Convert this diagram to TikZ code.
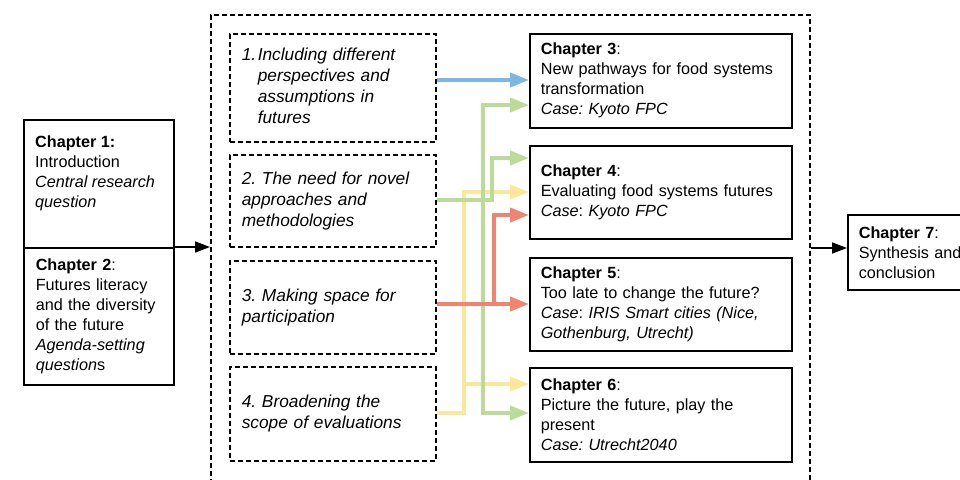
\documentclass[tikz,border=0pt]{standalone}
\usepackage{fontspec}
\setmainfont{Liberation Sans}
\usetikzlibrary{arrows.meta,calc}
\definecolor{cblue}{RGB}{125,182,226}
\definecolor{cgreen}{RGB}{186,220,152}
\definecolor{cyellow}{RGB}{250,232,152}
\definecolor{cred}{RGB}{240,132,112}
\frenchspacing
\begin{document}
\begin{tikzpicture}[x=1pt,y=-1pt,
  solidbox/.style={draw,line width=1.6pt,anchor=north west,inner ysep=0pt,align=left,font=\fontsize{16.2}{20}\selectfont},
  chapbox/.style={solidbox,text width=240pt,inner xsep=11pt},
  dashbox/.style={draw,line width=1.6pt,dash pattern=on 5pt off 3pt,anchor=north west,text width=182pt,inner xsep=12pt,inner ysep=0pt,align=left,font=\fontsize{17.3}{21}\selectfont\itshape},
  frame/.style={draw,line width=1.6pt,dash pattern=on 5pt off 3pt,anchor=north west},
  blk/.style={line width=1.6pt,-{Triangle[length=15pt,width=11pt]}},
  col/.style={line width=3.8pt,-{Triangle[length=19pt,width=14pt]}},
]
\clip (0,0) rectangle (960,479);
\fill[white] (0,0) rectangle (960,479);

% outer frame
\node[frame,minimum width=599pt,minimum height=490pt] (frame) at (210,14) {};

% chapters 1 and 2
\node[solidbox,minimum width=150pt,minimum height=128pt] (c1) at (23,119) {};
\node[anchor=north west,inner sep=0pt,align=left,font=\fontsize{16.2}{20}\selectfont] (c1t) at (35,136)
  {\textbf{Chapter 1:}\\Introduction\\\textit{Central research}\\\textit{question}};
\node[solidbox,text width=126pt,inner xsep=12pt,minimum height=137pt] (c2) at (23,247)
  {\textbf{Chapter 2}:\\Futures literacy\\and the diversity\\of the future\\\textit{Agenda-setting}\\\textit{question}s};

% themes
\node[dashbox,minimum height=108pt] (b1) at (229,33)
  {\begin{tabular}{@{}l@{}l@{}}\makebox[16pt][l]{1.}&Including different\\&perspectives and\\&assumptions in\\&futures\end{tabular}};
\node[dashbox,minimum height=92pt] (b2) at (229,154)
  {2. The need for novel\\approaches and\\methodologies};
\node[dashbox,minimum height=93pt] (b3) at (229,260)
  {3. Making space for\\participation};
\node[dashbox,minimum height=94pt] (b4) at (229,366)
  {4. Broadening the\\scope of evaluations};

% chapters 3-6
\node[chapbox,minimum height=94pt] (c3) at (529,33)
  {\textbf{Chapter 3}:\\New pathways for food systems\\transformation\\\textit{Case: Kyoto FPC}};
\node[chapbox,minimum height=93pt] (c4) at (529,145)
  {\textbf{Chapter 4}:\\Evaluating food systems futures\\\textit{Case}: \textit{Kyoto FPC}};
\node[chapbox,minimum height=93pt] (c5) at (529,257)
  {\textbf{Chapter 5}:\\Too late to change the future?\\\textit{Case}: \textit{IRIS Smart cities (Nice,}\\\textit{Gothenburg, Utrecht)}};
\node[chapbox,minimum height=94pt] (c6) at (529,367)
  {\textbf{Chapter 6}:\\Picture the future, play the\\present\\\textit{Case: Utrecht2040}};

% chapter 7
\node[solidbox,text width=130pt,inner xsep=11pt,minimum height=75pt] (c7) at (847,214)
  {\textbf{Chapter 7}:\\Synthesis and\\conclusion};

% black arrows
\draw[blk] (c2.north east) -- (frame.west |- c2.north east);
\draw[blk] (frame.east |- 0,248) -- (c7.west |- 0,248);

% coloured arrows
\coordinate (yx) at (464,413);
\coordinate (gx) at (483,200);
\coordinate (rx) at (494,304);
\draw[col,cyellow] (b4.east |- yx) -| (464,192) -- (c4.west |- 0,192);
\draw[col,cyellow] (464,384) -- (c6.west |- 0,384);
\draw[col,cgreen] (b2.east |- gx) -- (gx) |- (c3.west |- 0,105);
\draw[col,cgreen] (gx) |- (c6.west |- 0,413);
\draw[col,cgreen] (b2.east |- gx) -| (492,158) -- (c4.west |- 0,158);
\draw[col,cred] (b3.east |- rx) -- (c5.west |- rx);
\draw[col,cred] (rx) |- (c4.west |- 0,215);
\draw[col,cblue] (b1.east |- 0,80) -- (c3.west |- 0,80);
\end{tikzpicture}
\end{document}
